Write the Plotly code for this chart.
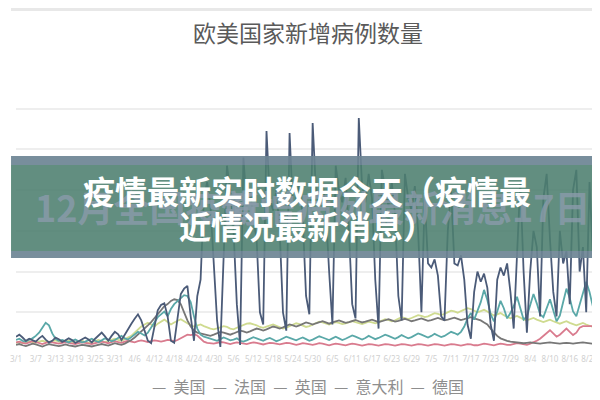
import plotly.graph_objects as go
import pandas as pd

# ---------------- data ----------------
dates = list(pd.date_range("2020-03-01", periods=180).strftime("%-m/%-d"))
series_names = ["美国", "法国", "英国", "意大利", "德国"]
series_colors = ["#4b5b78", "#5aa8a8", "#cfdb90", "#d97b8e", "#777777"]

us = [4000, 4500, 3800, 3000, 3500, 3200, 2800, 3600, 4200, 3300,
      2600, 3000, 3800, 3400, 2700, 3100, 3600, 3200, 2500, 2900,
      3400, 3800, 3300, 2600, 3500, 4300, 5000, 4100, 3000, 4200,
      5200, 4600, 3200, 4500, 6000, 7200, 8400, 9500, 8000, 5200,
      3000, 2400, 6500, 10500, 11800, 12200, 9000, 3000, 2500, 8000,
      14500, 15800, 16500, 9000, 3000, 14000, 18000, 38000, 42000, 36000,
      22000, 8000, 1500, 25000, 46000, 40000, 30000, 12000, 2000, 48000,
      36000, 40000, 33000, 28000, 10000, 7000, 54500, 38000, 35000, 40000,
      30000, 10000, 5500, 54000, 36000, 38000, 42000, 33000, 14000, 9500,
      56500, 40000, 36000, 42000, 35000, 20000, 7000, 46000, 40000, 37000,
      43000, 30000, 12000, 8500, 57700, 41000, 37000, 44000, 38000, 18000,
      6000, 45000, 40000, 36000, 42000, 34000, 14000, 8000, 44000, 38000,
      35000, 41000, 30000, 10000, 38000, 22000, 21000, 23000, 19000, 9000,
      8000, 30000, 40000, 22000, 21500, 24000, 18000, 7000, 3500, 15000,
      20000, 17500, 19500, 16000, 7000, 3000, 18000, 21000, 19000, 22000,
      15000, 6000, 24000, 42000, 20000, 5000, 20000, 30000, 26000, 9000,
      38000, 44000, 28000, 15000, 9000, 30000, 22000, 25000, 12000, 40000,
      45000, 20000, 26000, 10000, 42000, 24000, 30000, 12000, 35000, 28000]

fr = [3200, 3500, 3000, 2800, 3300, 3600, 4200, 5000, 6200, 7400,
      6800, 4800, 3500, 3000, 3200, 2900, 2600, 3000, 3300, 2900,
      2600, 2800, 3200, 3500, 3000, 2700, 3100, 3600, 3300, 2900,
      3200, 3800, 4200, 3600, 3300, 3900, 4600, 5200, 4800, 4300,
      5000, 6200, 7500, 8800, 9500, 10200, 9000, 10800, 12000, 12800,
      13600, 14200, 14000, 12500, 9000, 6000, 4500, 4000, 3800, 3500,
      3200, 3000, 3400, 3800, 3500, 3100, 3300, 3600, 3000, 2800,
      3100, 3500, 3900, 3600, 3200, 3000, 3400, 3700, 3300, 2900,
      3200, 3600, 4000, 3700, 3300, 3100, 3500, 3800, 3400, 3000,
      3300, 3700, 4100, 3800, 3400, 3200, 3600, 4000, 3600, 3200,
      3500, 3900, 4300, 4000, 3600, 3300, 3700, 4200, 3800, 3400,
      3700, 4100, 4500, 4200, 3800, 3500, 3900, 4400, 4000, 3600,
      3900, 4300, 4800, 4500, 4100, 3800, 4200, 4700, 4300, 3900,
      4200, 4700, 5200, 4900, 4500, 5200, 6500, 8500, 9800, 8200,
      10500, 12500, 15500, 13000, 9500, 7800, 10200, 12800, 11000, 8500,
      9800, 11500, 13800, 10800, 8200, 9000, 12000, 14500, 12200, 9500,
      8800, 11000, 13200, 10500, 7800, 9200, 12500, 15800, 13500, 10200,
      9000, 11800, 14800, 17500, 15000, 11500, 10000, 13500, 16800, 14500]

uk = [2500, 2700, 2400, 2600, 2900, 2700, 2500, 2800, 3000, 2800,
      2600, 2900, 3100, 2800, 2600, 2800, 3000, 2700, 2500, 2800,
      3000, 2700, 2500, 2700, 3000, 3200, 2900, 2700, 3000, 3300,
      3500, 3200, 3000, 3400, 3800, 4200, 5000, 5800, 6500, 7000,
      7400, 7000, 6500, 7200, 7800, 8200, 7600, 7000, 7500, 8000,
      8300, 7800, 7200, 6800, 6500, 6800, 7000, 6600, 6200, 6000,
      5800, 6000, 6300, 6600, 6400, 6000, 5800, 6200, 6600, 7000,
      7200, 7300, 7100, 6800, 6400, 6200, 6500, 6800, 7000, 6700,
      6300, 6000, 6200, 6600, 7000, 7300, 7100, 6700, 6400, 6600,
      7000, 7400, 7700, 7500, 7200, 7000, 7300, 7600, 7400, 7100,
      7300, 7500, 7800, 7600, 7300, 7100, 7400, 7700, 7500, 7300,
      7600, 8000, 8300, 8100, 7800, 8000, 8400, 8800, 8600, 8300,
      8600, 9000, 9300, 9100, 8800, 9000, 9400, 9800, 9600, 9300,
      9600, 10000, 10400, 10200, 9900, 10300, 10700, 11000, 10800, 10400,
      10000, 10300, 10600, 10200, 9600, 9200, 9500, 9800, 9300, 8800,
      8500, 8800, 9100, 8700, 8200, 8000, 8300, 8600, 8200, 7800,
      7600, 7900, 8200, 7800, 7400, 7200, 7500, 7800, 7400, 7000,
      6800, 7100, 7400, 7000, 6600, 6400, 6700, 7000, 6600, 6300]

it = [2600, 2800, 2500, 2300, 2600, 2900, 2700, 2400, 2200, 2500,
      2800, 2600, 2400, 2300, 2500, 2700, 2500, 2300, 2200, 2400,
      2600, 2500, 2300, 2200, 2400, 2600, 2800, 2600, 2400, 2700,
      2900, 2700, 2500, 2800, 3000, 2800, 2600, 2900, 3100, 2900,
      2700, 2900, 3100, 3000, 2800, 3000, 3200, 3100, 2900, 3200,
      3600, 4200, 4500, 4400, 4600, 4300, 3500, 2800, 2500, 2400,
      2300, 2500, 2700, 2600, 2400, 2200, 2400, 2600, 2500, 2300,
      2200, 2400, 2600, 2500, 2300, 2100, 2300, 2500, 2400, 2200,
      2100, 2300, 2500, 2400, 2200, 2000, 2200, 2400, 2300, 2100,
      2000, 2200, 2400, 2300, 2100, 1900, 2100, 2300, 2200, 2000,
      1900, 2100, 2300, 2200, 2000, 1800, 2000, 2200, 2100, 1900,
      1800, 2000, 2200, 2100, 1900, 1800, 2000, 2200, 2100, 1900,
      1800, 2000, 2200, 2100, 1900, 1800, 2000, 2200, 2100, 1900,
      1800, 2000, 2200, 2100, 1900, 1800, 2000, 2200, 2100, 1900,
      1900, 2100, 2300, 2200, 2000, 1900, 2100, 2300, 2200, 2000,
      2000, 2200, 2400, 2300, 2100, 2000, 2300, 2600, 3000, 3500,
      4200, 5000, 5600, 4800, 4000, 4500, 5300, 6000, 5200, 4400,
      5000, 6200, 6600, 6600, 6500, 6600, 6600, 5000, 4500, 4800]

de = [2000, 2200, 1900, 1700, 2000, 2300, 2100, 1800, 1600, 1900,
      2200, 2000, 1800, 1700, 1900, 2100, 1900, 1700, 1600, 1800,
      2000, 1900, 1700, 1600, 1800, 2000, 2200, 2000, 1800, 2100,
      2400, 2200, 2000, 2300, 2700, 3200, 3800, 4500, 5200, 6000,
      6800, 7600, 8500, 9500, 10500, 11500, 12000, 12800, 13200, 13000,
      12000, 10000, 8000, 6500, 5500, 5000, 4800, 4600, 4400, 4200,
      4500, 4800, 5200, 5000, 4700, 4500, 4800, 5200, 5500, 5300,
      5000, 5300, 5700, 6000, 5800, 5500, 5800, 6200, 6500, 6300,
      6000, 6300, 6700, 7000, 6800, 6500, 6800, 7200, 7500, 7300,
      7000, 7300, 7600, 7800, 7500, 7200, 7500, 7800, 8000, 7700,
      7400, 7600, 7900, 8100, 7800, 7500, 7700, 8000, 8200, 7900,
      7600, 7800, 8100, 8300, 8000, 7700, 7900, 8200, 8400, 8100,
      7800, 8000, 8300, 8500, 8200, 7900, 8100, 8400, 8600, 8300,
      8000, 8200, 8500, 8700, 8400, 8100, 8300, 8600, 8800, 8500,
      8200, 8000, 7500, 7000, 6000, 5000, 4200, 3600, 3200, 3000,
      2800, 2700, 2600, 2500, 2400, 2500, 2600, 2500, 2400, 2300,
      2400, 2500, 2600, 2500, 2400, 2300, 2400, 2500, 2400, 2300,
      2400, 2500, 2600, 2500, 2400, 2300, 2400, 2500, 2400, 2300]

all_series = [us, fr, uk, it, de]
tick_labels = dates[::6]

title_text = "欧美国家新增病例数量"
banner_line1 = "疫情最新实时数据今天（疫情最"
banner_line2 = "近情况最新消息）"
ghost_left = "12月全国疫情"
ghost_right = "新增病例最新消息17日"
legend_text = "—  美国  —  法国  —  英国  —  意大利  —  德国"

# ---------------- figure ----------------
fig = go.Figure()
draw_order = [2, 3, 4, 1, 0]
for k in draw_order:
    fig.add_trace(go.Scatter(
        x=dates, y=all_series[k], mode="lines", name=series_names[k],
        line=dict(color=series_colors[k], width=1.8), showlegend=False))

W, H = 600, 400
L, R, T, B = 5, 2, 60, 55
pw, ph = W - L - R, H - T - B


def px(xp):
    return (xp - L) / pw


def py(yp):
    return (H - B - yp) / ph


shapes = [
    dict(type="rect", xref="paper", yref="paper", x0=px(0), x1=px(600),
         y0=py(3), y1=py(0), fillcolor="#e8e8e8", line_width=0, layer="below"),
    dict(type="rect", xref="paper", yref="paper", x0=px(0), x1=px(600),
         y0=py(400), y1=py(396), fillcolor="#e6e6e6", line_width=0, layer="below"),
    dict(type="rect", xref="paper", yref="paper", x0=px(0), x1=px(600),
         y0=py(157), y1=py(148), fillcolor="rgba(108,132,148,0.92)", line_width=0, layer="above"),
    dict(type="rect", xref="paper", yref="paper", x0=px(0), x1=px(600),
         y0=py(243), y1=py(157), fillcolor="rgba(76,126,110,0.88)", line_width=0, layer="above"),
    dict(type="rect", xref="paper", yref="paper", x0=px(0), x1=px(600),
         y0=py(250), y1=py(243), fillcolor="rgba(108,132,148,0.92)", line_width=0, layer="above"),
]

ghost_font = dict(family="Noto Sans CJK SC", size=36, color="rgba(140,156,172,0.8)")
annotations = [
    dict(text="<b>" + ghost_left + "</b>", xref="paper", yref="paper", x=px(22), y=py(198),
         xanchor="left", yanchor="middle", showarrow=False, font=ghost_font),
    dict(text="<b>" + ghost_right + "</b>", xref="paper", yref="paper", x=px(584), y=py(198),
         xanchor="right", yanchor="middle", showarrow=False, font=ghost_font),
    dict(text="<b>" + banner_line1 + "</b>", xref="paper", yref="paper", x=px(297), y=py(182),
         xanchor="center", yanchor="middle", showarrow=False,
         font=dict(family="Noto Sans CJK SC", size=32, color="#ffffff")),
    dict(text="<b>" + banner_line2 + "</b>", xref="paper", yref="paper", x=px(297), y=py(217),
         xanchor="center", yanchor="middle", showarrow=False,
         font=dict(family="Noto Sans CJK SC", size=32, color="#ffffff")),
    dict(text=legend_text, xref="paper", yref="paper",
         x=px(298), y=py(378), xanchor="center", yanchor="middle", showarrow=False,
         font=dict(family="Noto Sans CJK SC", size=16, color="#8e8e8e")),
]

fig.update_layout(
    width=W, height=H,
    margin=dict(l=L, r=R, t=T, b=B),
    paper_bgcolor="#ffffff", plot_bgcolor="#ffffff",
    title=dict(text=title_text, x=0.5, xanchor="center", y=1 - 26 / H, yanchor="middle",
               font=dict(family="Noto Sans CJK SC", size=23, color="#5a5a5a")),
    xaxis=dict(type="category", range=[0, len(dates) - 1], showgrid=False, zeroline=False,
               showline=False, ticks="", tickmode="array", tickvals=tick_labels,
               ticktext=tick_labels, tickangle=0,
               tickfont=dict(family="Noto Sans", size=8, color="#d0d0d0")),
    yaxis=dict(range=[0, 70000], dtick=10000, showticklabels=False, gridcolor="#eeeeee",
               gridwidth=2, zeroline=False, showline=False),
    shapes=shapes, annotations=annotations, showlegend=False,
)

fig.write_html("out.html")
